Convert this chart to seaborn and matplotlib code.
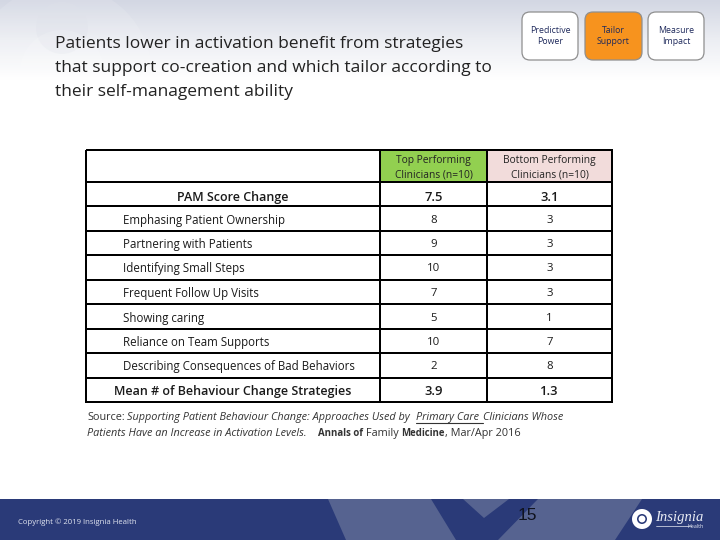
import numpy as np
import pandas as pd
import seaborn as sns
import matplotlib
matplotlib.use("Agg")
import matplotlib.pyplot as plt
from matplotlib.colors import ListedColormap, LinearSegmentedColormap
from matplotlib.patches import FancyBboxPatch, Circle, Polygon

sns.set_theme(style="white")
plt.rcParams['font.family'] = ['Open Sans', 'DejaVu Sans']

title_lines = ["Patients lower in activation benefit from strategies",
               "that support co-creation and which tailor according to",
               "their self-management ability"]
header_top = "Top Performing\nClinicians (n=10)"
header_bottom = "Bottom Performing\nClinicians (n=10)"
row_labels = ["PAM Score Change", "Emphasing Patient Ownership", "Partnering with Patients",
              "Identifying Small Steps", "Frequent Follow Up Visits", "Showing caring",
              "Reliance on Team Supports", "Describing Consequences of Bad Behaviors",
              "Mean # of Behaviour Change Strategies"]
top_values = ["7.5", "8", "9", "10", "7", "5", "10", "2", "3.9"]
bottom_values = ["3.1", "3", "3", "3", "3", "1", "7", "8", "1.3"]
buttons = ["Predictive\nPower", "Tailor\nSupport", "Measure\nImpact"]

W, H = 720, 540
fig = plt.figure(figsize=(7.2, 5.4), dpi=100, facecolor="white")


def axes_px(x0, y0, x1, y1, z=1):
    return fig.add_axes([x0 / W, 1 - y1 / H, (x1 - x0) / W, (y1 - y0) / H], zorder=z)


bg = axes_px(0, 0, W, H, 0)
bg.axis("off")

# top gradient
top_cmap = LinearSegmentedColormap.from_list("t", ["#d3d7e3", "#eceef3", "#ffffff"])
bg.imshow(np.linspace(0, 1, 100)[:, None], extent=(0, W, 80, 0), cmap=top_cmap, aspect="auto", zorder=0)
bg.set_xlim(0, W)
bg.set_ylim(H, 0)

# faint watermark
bg.add_patch(Circle((62, 75), 90, fc="#ffffff", alpha=0.12, ec="none", zorder=1))
bg.add_patch(Circle((62, 28), 26, fc="#dfe2ea", alpha=0.3, ec="none", zorder=1))
bg.add_patch(Circle((62, 72), 42, fc="#ffffff", alpha=0.15, ec="none", zorder=1))

# footer
navy = "#2a3a78"
bg.fill_between([0, W], 499, 540, color=navy, lw=0, zorder=2)
bg.add_patch(Polygon([(328, 499), (642, 499), (615, 540), (346, 540)], fc="#566390", ec="none", zorder=3))
bg.add_patch(Polygon([(431, 499), (463, 499), (484, 518), (509, 499), (538, 499), (498, 540), (456, 540)],
                     fc=navy, ec="none", zorder=4))

# title
for i, line in enumerate(title_lines):
    bg.text(55, 44 + i * 24, line, fontsize=12.55, color="#222222", va="center", ha="left", zorder=5)

# buttons
for (x0, x1), lab, fc in zip([(522, 578), (585, 642), (648, 704)], buttons, ["white", "#f7931e", "white"]):
    bg.add_patch(FancyBboxPatch((x0 + 7, 19), x1 - x0 - 14, 34, boxstyle="round,pad=7,rounding_size=8",
                                fc=fc, ec="#8f8f8f", lw=0.9, zorder=4))
    bg.text((x0 + x1) / 2, 36, lab, fontsize=6.3, color="#1f2a5c", ha="center", va="center",
            fontweight="medium", linespacing=1.3, zorder=5)


def column(x0, x1, colour_header, header, texts, weights, sizes, aligns, nudges):
    a = axes_px(x0, 150, x1, 182, 2)
    sns.heatmap(pd.DataFrame([[0]]), ax=a, cmap=ListedColormap([colour_header]), cbar=False,
                linewidths=1.3, linecolor="black", xticklabels=False, yticklabels=False, clip_on=False)
    if header:
        a.text(0.5, 0.55, header, ha="center", va="center", fontsize=7.4, color="#222222", linespacing=1.38)
    a = axes_px(x0, 182, x1, 402, 2)
    sns.heatmap(pd.DataFrame(np.zeros((len(texts), 1))), ax=a, cmap=ListedColormap(["white"]), cbar=False,
                linewidths=1.3, linecolor="black", xticklabels=False, yticklabels=False, clip_on=False)
    for i, (t, w, s, al, nudge) in enumerate(zip(texts, weights, sizes, aligns, nudges)):
        xpos, ha = al
        a.text(xpos, i + 0.57 + nudge, t, ha=ha, va="center", fontsize=s, color="#1a1a1a", fontweight=w)


row_nudges = [0.08, 0.0, 0, -0.04, 0, 0, 0, -0.04, 0]
lab_al = [(0.5, "center")] + [(0.125, "left")] * 7 + [(0.5, "center")]
lab_w = ["semibold"] + ["medium"] * 7 + ["semibold"]
lab_s = [9.0] + [8.3] * 7 + [9.0]
column(86, 380, "white", "", row_labels, lab_w, lab_s, lab_al, row_nudges)
val_al = [(0.5, "center")] * 9
val_w = ["semibold"] + ["normal"] * 7 + ["semibold"]
val_s = [9.4] + [8.2] * 7 + [9.4]
column(380, 487, "#92d050", header_top, top_values, val_w, val_s, val_al, row_nudges)
column(487, 612, "#f2dcdb", header_bottom, bottom_values, val_w, val_s, val_al, row_nudges)

# source
src = dict(fontsize=7.8, color="#333333", va="center", ha="left", zorder=5)
bold = dict(src, fontsize=6.9, fontweight="bold")
bg.text(87, 417.5, "Source:", **src)
bg.text(127, 417.5, "Supporting Patient Behaviour Change: Approaches Used by", style="italic", **src)
bg.text(416, 417.5, "Primary Care", style="italic", **src)
bg.plot([416, 483], [423, 423], color="#333333", lw=0.8, zorder=5)
bg.text(483, 417.5, "Clinicians Whose", style="italic", **src)
bg.text(87, 433.5, "Patients Have an Increase in Activation Levels.", style="italic", **src)
bg.text(318, 433.5, "Annals of", **bold)
bg.text(366, 433.5, "Family", **src)
bg.text(401, 433.5, "Medicine", **bold)
bg.text(445, 433.5, ", Mar/Apr 2016", **src)

# footer text
bg.text(18, 522, "Copyright © 2019 Insignia Health", fontsize=5.6, color="#dfe3ef", va="center", zorder=6)
bg.text(527, 515, "15", fontsize=12.5, color="#10131f", ha="center", va="center",
        family="Liberation Sans", zorder=6)
bg.add_patch(Circle((642, 519), 10, fc="white", ec="none", zorder=6))
bg.add_patch(Circle((642, 519), 5, fc=navy, ec="none", zorder=7))
bg.add_patch(Circle((642, 519), 3.4, fc="white", ec="none", zorder=8))
bg.text(655, 518, "Insignia", fontsize=10.5, style="italic", color="#e8ebf4", va="center",
        family="Liberation Serif", zorder=6)
bg.text(704, 526, "Health", fontsize=3.8, color="#e8ebf4", va="center", ha="right", zorder=6)
bg.plot([656, 690], [526, 526], color="#e8ebf4", lw=0.5, zorder=6)

fig.savefig("out.png", dpi=100)
